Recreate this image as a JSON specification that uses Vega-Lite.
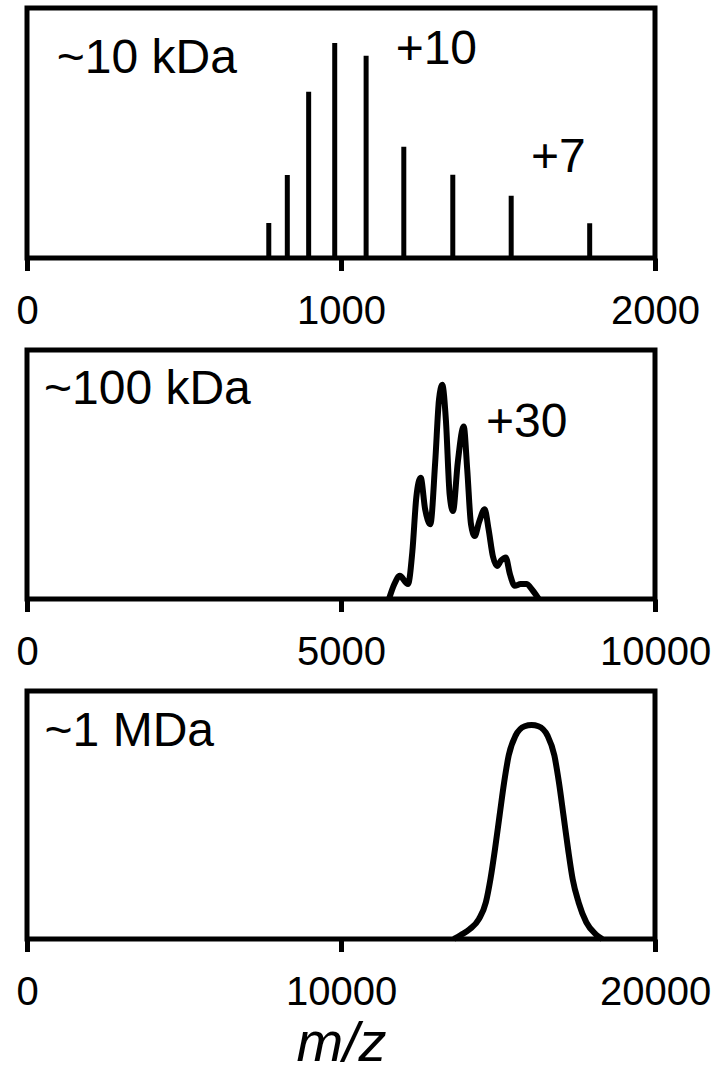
{
  "$schema": "https://vega.github.io/schema/vega-lite/v6.json",
  "padding": {"left": 13, "top": 5, "right": 5, "bottom": 0},
  "spacing": 13,
  "config": {
    "view": {"stroke": "black", "strokeWidth": 5},
    "font": "Liberation Sans",
    "axis": {
      "grid": false,
      "domain": false,
      "ticks": true,
      "tickColor": "black",
      "tickWidth": 5,
      "tickSize": 12.5,
      "labelFont": "Liberation Sans",
      "labelFontSize": 40,
      "labelColor": "black",
      "labelPadding": 21,
      "labelFlush": false,
      "labelOverlap": false,
      "format": "d"
    },
    "text": {"font": "Liberation Sans", "fontSize": 48, "align": "left", "baseline": "alphabetic", "color": "black"}
  },
  "vconcat": [
    {
      "width": 628,
      "height": 250,
      "layer": [
        {
          "data": {"values": [
            {"mz": 770, "intensity": 0.14},
            {"mz": 829, "intensity": 0.332},
            {"mz": 897, "intensity": 0.665},
            {"mz": 980, "intensity": 0.86},
            {"mz": 1080, "intensity": 0.809},
            {"mz": 1200, "intensity": 0.445},
            {"mz": 1356, "intensity": 0.333},
            {"mz": 1542, "intensity": 0.249},
            {"mz": 1792, "intensity": 0.139}
          ]},
          "mark": {"type": "rule", "strokeWidth": 5, "color": "black"},
          "encoding": {
            "x": {"field": "mz", "type": "quantitative", "scale": {"domain": [0, 2000], "nice": false, "zero": false}, "axis": {"values": [0, 1000, 2000], "title": null, "format": "d"}},
            "y": {"field": "intensity", "type": "quantitative", "scale": {"domain": [0, 1], "nice": false}, "axis": null},
            "y2": {"datum": 0}
          }
        },
        {
          "data": {"values": [
            {"mz": 95, "pos": 0.74, "label": "~10 kDa"},
            {"mz": 1174, "pos": 0.776, "label": "+10"},
            {"mz": 1605, "pos": 0.345, "label": "+7"}
          ]},
          "mark": {"type": "text"},
          "encoding": {
            "x": {"field": "mz", "type": "quantitative"},
            "y": {"field": "pos", "type": "quantitative"},
            "text": {"field": "label"}
          }
        }
      ]
    },
    {
      "width": 628,
      "height": 249,
      "layer": [
        {
          "data": {"values": [
            {"mz": 5764, "intensity": 0},
            {"mz": 5850, "intensity": 0.06},
            {"mz": 5935, "intensity": 0.093},
            {"mz": 6067, "intensity": 0.06},
            {"mz": 6136, "intensity": 0.19},
            {"mz": 6200, "intensity": 0.41},
            {"mz": 6269, "intensity": 0.487},
            {"mz": 6340, "intensity": 0.36},
            {"mz": 6422, "intensity": 0.30},
            {"mz": 6500, "intensity": 0.55},
            {"mz": 6560, "intensity": 0.80},
            {"mz": 6613, "intensity": 0.86},
            {"mz": 6670, "intensity": 0.72},
            {"mz": 6730, "intensity": 0.42},
            {"mz": 6783, "intensity": 0.353},
            {"mz": 6860, "intensity": 0.55},
            {"mz": 6954, "intensity": 0.693},
            {"mz": 7010, "intensity": 0.52},
            {"mz": 7070, "intensity": 0.30},
            {"mz": 7129, "intensity": 0.253},
            {"mz": 7200, "intensity": 0.31},
            {"mz": 7288, "intensity": 0.36},
            {"mz": 7350, "intensity": 0.28},
            {"mz": 7420, "intensity": 0.17},
            {"mz": 7484, "intensity": 0.133},
            {"mz": 7550, "intensity": 0.155},
            {"mz": 7623, "intensity": 0.167},
            {"mz": 7690, "intensity": 0.10},
            {"mz": 7766, "intensity": 0.053},
            {"mz": 7860, "intensity": 0.06},
            {"mz": 7951, "intensity": 0.06},
            {"mz": 8050, "intensity": 0.035},
            {"mz": 8148, "intensity": 0}
          ]},
          "mark": {"type": "line", "strokeWidth": 6, "color": "black", "interpolate": "monotone", "strokeJoin": "round"},
          "encoding": {
            "x": {"field": "mz", "type": "quantitative", "scale": {"domain": [0, 10000], "nice": false, "zero": false}, "axis": {"values": [0, 5000, 10000], "title": null, "format": "d"}},
            "y": {"field": "intensity", "type": "quantitative", "scale": {"domain": [0, 1], "nice": false}, "axis": null}
          }
        },
        {
          "data": {"values": [
            {"mz": 270, "pos": 0.783, "label": "~100 kDa"},
            {"mz": 7309, "pos": 0.649, "label": "+30"}
          ]},
          "mark": {"type": "text"},
          "encoding": {
            "x": {"field": "mz", "type": "quantitative"},
            "y": {"field": "pos", "type": "quantitative"},
            "text": {"field": "label"}
          }
        }
      ]
    },
    {
      "width": 628,
      "height": 248,
      "layer": [
        {
          "data": {"values": [
            {"mz": 13596, "intensity": 0},
            {"mz": 13814, "intensity": 0.016},
            {"mz": 14105, "intensity": 0.04},
            {"mz": 14396, "intensity": 0.081},
            {"mz": 14614, "intensity": 0.148},
            {"mz": 14760, "intensity": 0.242},
            {"mz": 14905, "intensity": 0.363},
            {"mz": 15050, "intensity": 0.498},
            {"mz": 15196, "intensity": 0.632},
            {"mz": 15341, "intensity": 0.74},
            {"mz": 15559, "intensity": 0.82},
            {"mz": 15850, "intensity": 0.858},
            {"mz": 16068, "intensity": 0.863},
            {"mz": 16286, "intensity": 0.858},
            {"mz": 16577, "intensity": 0.82},
            {"mz": 16795, "intensity": 0.74},
            {"mz": 16940, "intensity": 0.632},
            {"mz": 17086, "intensity": 0.498},
            {"mz": 17231, "intensity": 0.363},
            {"mz": 17377, "intensity": 0.242},
            {"mz": 17566, "intensity": 0.148},
            {"mz": 17813, "intensity": 0.067},
            {"mz": 18104, "intensity": 0.02},
            {"mz": 18322, "intensity": 0}
          ]},
          "mark": {"type": "line", "strokeWidth": 6, "color": "black", "interpolate": "monotone", "strokeJoin": "round"},
          "encoding": {
            "x": {"field": "mz", "type": "quantitative", "scale": {"domain": [0, 20000], "nice": false, "zero": false}, "axis": {"values": [0, 10000, 20000], "format": "d", "title": "m/z", "titleFont": "Liberation Sans", "titleFontSize": 56, "titleFontStyle": "italic", "titleFontWeight": "normal", "titleColor": "black", "titlePadding": 4}},
            "y": {"field": "intensity", "type": "quantitative", "scale": {"domain": [0, 1], "nice": false}, "axis": null}
          }
        },
        {
          "data": {"values": [
            {"mz": 560, "pos": 0.78, "label": "~1 MDa"}
          ]},
          "mark": {"type": "text"},
          "encoding": {
            "x": {"field": "mz", "type": "quantitative"},
            "y": {"field": "pos", "type": "quantitative"},
            "text": {"field": "label"}
          }
        }
      ]
    }
  ]
}
